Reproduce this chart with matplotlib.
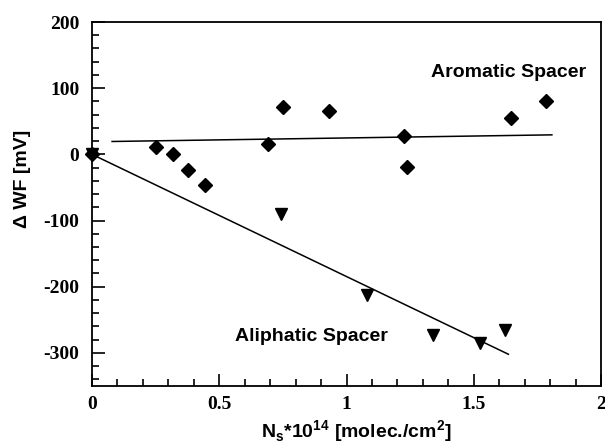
import numpy as np
import matplotlib.pyplot as plt
from matplotlib.ticker import MultipleLocator

plt.rcParams['axes.unicode_minus'] = False

# aromatic spacer (diamonds)
arom_x = [0.0, 0.25, 0.32, 0.376, 0.443, 0.693, 0.749, 0.933, 1.226, 1.239, 1.648, 1.782]
arom_y = [0, 11, 0, -24, -47, 16, 71, 65, 27, -19, 55, 81]

# aliphatic spacer (triangles)
alip_x = [0.0, 0.743, 1.079, 1.338, 1.525, 1.621]
alip_y = [0, -90, -212, -273, -285, -266]

# linear fits: x range, slope, intercept
arom_fit_x = [0.079, 1.807]
arom_fit = (5.8, 19.0)
alip_fit_x = [0.0, 1.636]
alip_fit = (-184.6, 0.0)

sans = ['Liberation Sans', 'DejaVu Sans']
serif = ['Liberation Serif', 'DejaVu Serif']

fig = plt.figure(figsize=(6.05, 4.47), dpi=100)
ax = fig.add_axes([92/605, 1 - 386/447, (601-92)/605, (386-22)/447])

fx = np.array(arom_fit_x)
ax.plot(fx, arom_fit[0]*fx + arom_fit[1], color='k', lw=1.1)
fx = np.array(alip_fit_x)
ax.plot(fx, alip_fit[0]*fx + alip_fit[1], color='k', lw=1.1)

ax.plot(alip_x, alip_y, 'v', color='k', ms=9, clip_on=False)
ax.plot(arom_x, arom_y, 'D', color='k', ms=7, clip_on=False)

ax.set_xlim(0, 2)
ax.set_ylim(-350, 200)
ax.xaxis.set_major_locator(MultipleLocator(0.5))
ax.xaxis.set_minor_locator(MultipleLocator(0.1))
ax.yaxis.set_major_locator(MultipleLocator(100))
ax.yaxis.set_minor_locator(MultipleLocator(20))
ax.tick_params(which='both', direction='in', top=False, right=False, width=1.2)
ax.tick_params(which='major', length=9, pad=9)
ax.tick_params(axis='x', which='major', pad=7)
ax.tick_params(which='minor', length=5)
for s in ax.spines.values():
    s.set_linewidth(1.3)

ax.set_xticks([0, 0.5, 1, 1.5, 2])
ax.set_xticklabels(['0', '0.5', '1', '1.5', '2'])
for lab in ax.get_xticklabels() + ax.get_yticklabels():
    lab.set_family(serif)
    lab.set_fontweight('bold')
    lab.set_fontsize(14)

ax.text(1.635, 124, 'Aromatic Spacer', family=sans, weight='bold', fontsize=14,
        ha='center', va='center')
ax.text(0.862, -275, 'Aliphatic Spacer', family=sans, weight='bold', fontsize=14,
        ha='center', va='center')

ax.set_xlabel(r'N$_\mathregular{s}$*10$^\mathregular{14}$ [molec./cm$^\mathregular{2}$]',
              family=sans, weight='bold', fontsize=14)
ax.set_ylabel('Δ WF [mV]', family=sans, weight='bold', fontsize=14)
ax.xaxis.set_label_coords(0.52, -0.09)
ax.yaxis.set_label_coords(-0.12, 0.57)

fig.savefig('out.png', dpi=100)
